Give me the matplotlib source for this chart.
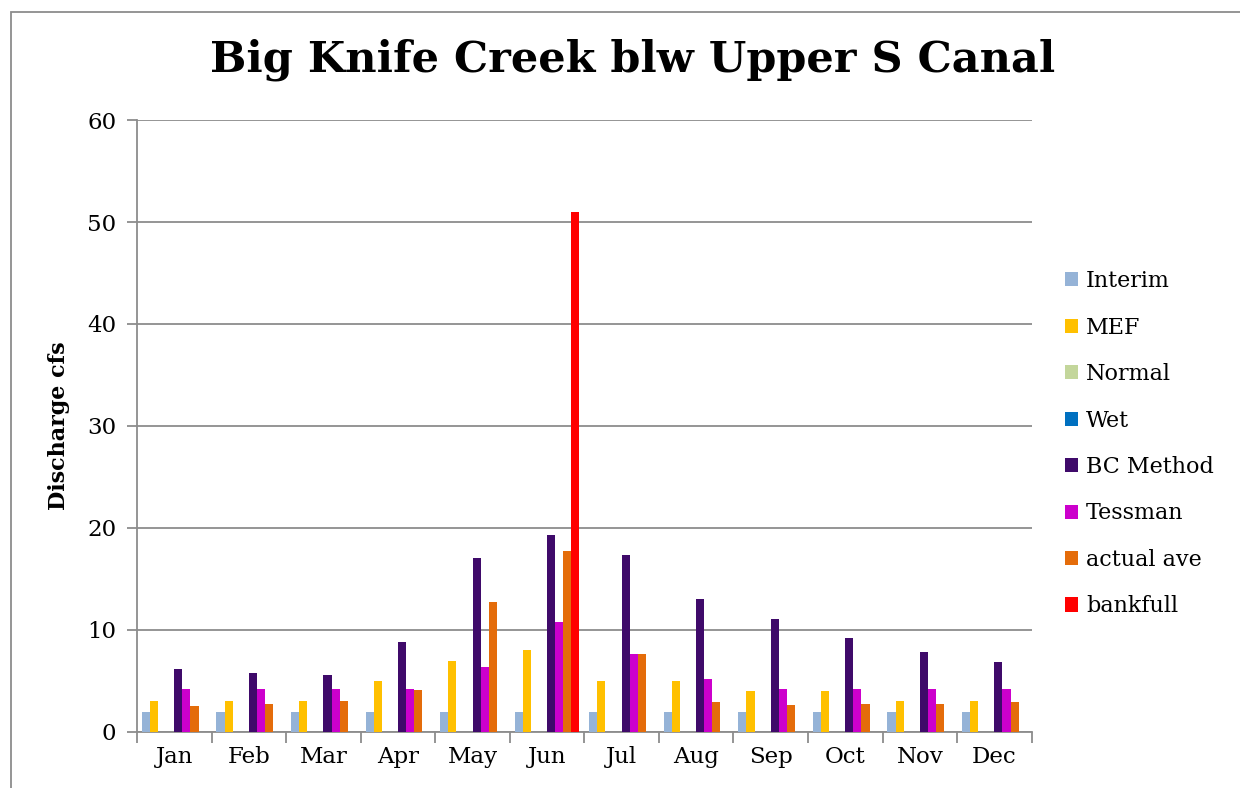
import numpy as np
import matplotlib
matplotlib.use('Agg')
import matplotlib.pyplot as plt
from matplotlib.patches import Rectangle

plt.rcParams['font.family'] = ['DejaVu Serif']

months = ['Jan', 'Feb', 'Mar', 'Apr', 'May', 'Jun', 'Jul', 'Aug', 'Sep', 'Oct', 'Nov', 'Dec']
series_names = ['Interim', 'MEF', 'Normal', 'Wet', 'BC Method', 'Tessman', 'actual ave', 'bankfull']

interim = [2, 2, 2, 2, 2, 2, 2, 2, 2, 2, 2, 2]
mef = [3, 3, 3, 5, 7, 8, 5, 5, 4, 4, 3, 3]
normal = [0] * 12
wet = [0] * 12
bc_method = [6.2, 5.8, 5.6, 8.8, 17.1, 19.3, 17.4, 13.0, 11.1, 9.2, 7.8, 6.9]
tessman = [4.2, 4.2, 4.2, 4.2, 6.4, 10.8, 7.6, 5.2, 4.2, 4.2, 4.2, 4.2]
actual_ave = [2.5, 2.7, 3.0, 4.1, 12.7, 17.7, 7.6, 2.9, 2.65, 2.75, 2.75, 2.9]
bankfull = [0, 0, 0, 0, 0, 51, 0, 0, 0, 0, 0, 0]

data = [interim, mef, normal, wet, bc_method, tessman, actual_ave, bankfull]
colors = ['#95B3D7', '#FFC000', '#C3D69B', '#0070C0', '#3F0A6A', '#CC00CC', '#E46C0A', '#FF0000']

fig = plt.figure(figsize=(12.4, 7.88), dpi=100)
ax = fig.add_axes([0.1105, 0.0711, 0.7215, 0.7766])

# outer chart border
fig.patches.append(Rectangle((0.009, -0.05), 1.1, 1.035, transform=fig.transFigure,
                             fill=False, edgecolor='#8c8c8c', linewidth=1.3))

x = np.arange(len(months))
w = 0.1086
for i, (name, vals, c) in enumerate(zip(series_names, data, colors)):
    ax.bar(x - 4 * w + (i + 0.5) * w, vals, width=w, color=c, label=name, zorder=3)

ax.set_ylim(0, 60)
ax.set_xlim(-0.5, 11.5)
ax.set_yticks(range(0, 61, 10))
ax.yaxis.grid(True, color='#8c8c8c', linewidth=1.3, zorder=0)
ax.set_xticks(x)
ax.set_xticklabels(months, fontsize=16.5)
ax.tick_params(axis='x', length=0, pad=10)
ax.set_xticks(np.arange(-0.5, 12, 1), minor=True)
ax.tick_params(axis='x', which='minor', length=8, width=1.3, color='#8c8c8c')
ax.tick_params(axis='y', labelsize=16.5, length=7, width=1.3, color='#8c8c8c', pad=8)
for s in ['top', 'right']:
    ax.spines[s].set_visible(False)
for s in ['left', 'bottom']:
    ax.spines[s].set_color('#8c8c8c')
    ax.spines[s].set_linewidth(1.3)

ax.set_ylabel('Discharge cfs', fontsize=16, fontweight='bold', labelpad=12)
fig.text(0.51, 0.924, 'Big Knife Creek blw Upper S Canal', ha='center', va='center',
         fontsize=31, fontweight='heavy')

ax.legend(loc='center left', bbox_to_anchor=(1.02, 0.471), frameon=False, fontsize=16,
          handlelength=0.6, handleheight=0.6, handletextpad=0.35, labelspacing=1.1,
          borderaxespad=0.3)

fig.savefig('out.png', dpi=100)
